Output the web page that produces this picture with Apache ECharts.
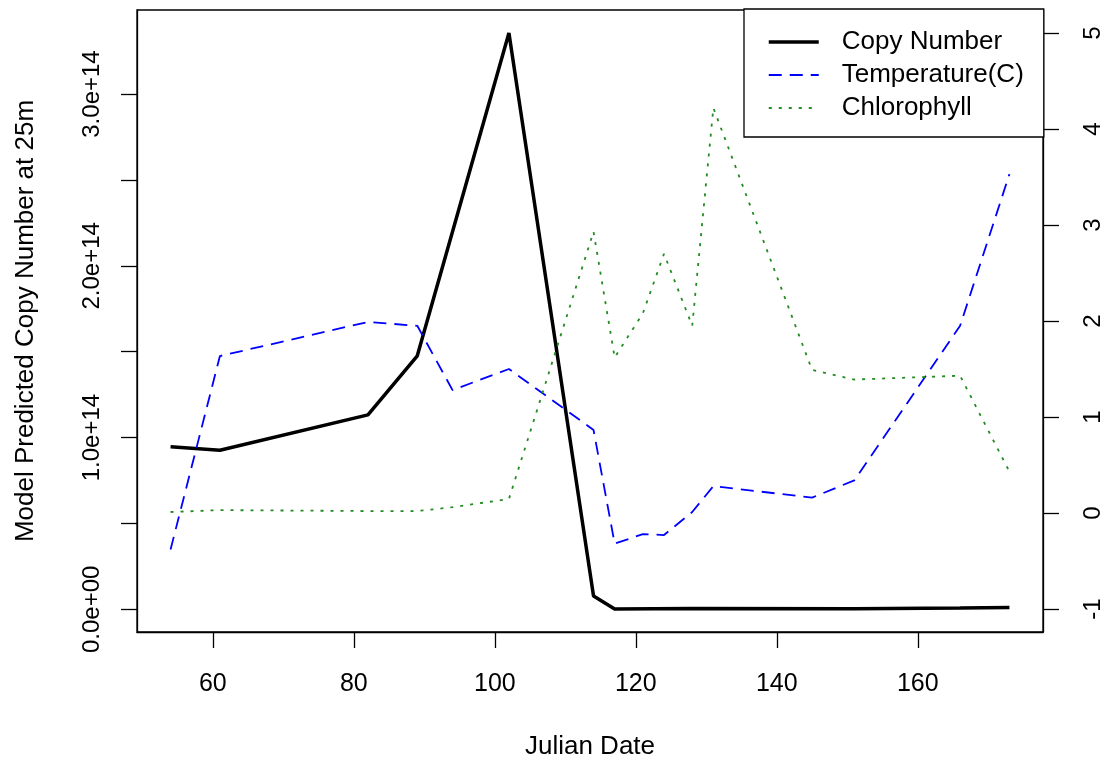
<!DOCTYPE html>
<html>
<head>
<meta charset="UTF-8">
<title>Copy Number</title>
<script src="https://cdn.jsdelivr.net/npm/echarts@6/dist/echarts.min.js"></script>
</head>
<body style="margin:0;background:#fff;">
	<div id="container" style="width:1109px;height:760px;"></div>
	<script type="text/javascript">

	// copy number (left axis)
	var copyDates = [54, 61, 82, 89, 102, 114, 117, 128, 151, 166, 173];
	var copyVals = [0.947e14, 0.926e14, 1.132e14, 1.476e14, 3.355e14, 0.078e14, 0.002e14, 0.004e14, 0.003e14, 0.008e14, 0.011e14];

	// temperature and chlorophyll (right axis)
	var envDates = [54, 61, 82, 89, 94, 102, 114, 117, 121, 124, 128, 131, 145, 151, 166, 173];
	var tempVals = [-0.38, 1.635, 1.99, 1.95, 1.28, 1.5, 0.865, -0.32, -0.22, -0.23, 0.01, 0.28, 0.16, 0.34, 1.95, 3.53];
	var chlVals = [0.01, 0.03, 0.02, 0.02, 0.06, 0.146, 2.93, 1.62, 2.08, 2.7, 1.95, 4.22, 1.49, 1.39, 1.43, 0.43];

	var xTicks = [60, 80, 100, 120, 140, 160];
	var leftTicks = [0, 0.5e14, 1e14, 1.5e14, 2e14, 2.5e14, 3e14];
	var leftLabels = [0, 1e14, 2e14, 3e14];
	var rightTicks = [-1, 0, 1, 2, 3, 4, 5];

	var font = 'Liberation Sans, Arial, Helvetica, sans-serif';

	function pair(xs, ys) {
		var out = [];
		for (var i = 0; i < xs.length; i++) out.push([xs[i], ys[i]]);
		return out;
	}
	// R style 4% padding
	function padRange(lo, hi) {
		var p = (hi - lo) * 0.04;
		return [lo - p, hi + p];
	}
	var allX = copyDates.concat(envDates);
	var xr = padRange(Math.min.apply(null, allX), Math.max.apply(null, allX));
	var yl = padRange(Math.min.apply(null, copyVals), Math.max.apply(null, copyVals));
	var yr = padRange(-1, 5);

	var dom = document.getElementById("container");
	var myChart = echarts.init(dom);
	var option = {
		animation: false,
		backgroundColor: '#fff',
		textStyle: { fontFamily: font },
		grid: {
			left: 137, right: 66, top: 10, bottom: 128,
			outerBoundsMode: 'none',
			containLabel: false,
			show: true, borderColor: '#000', borderWidth: 1.3
		},
		legend: {
			orient: 'vertical',
			left: 744, top: 9,
			padding: [20, 20, 16, 23],
			itemGap: 7,
			itemWidth: 50, itemHeight: 14,
			itemStyle: { opacity: 0 },
			borderColor: '#000', borderWidth: 1.3,
			backgroundColor: '#fff',
			textStyle: { fontSize: 26, color: '#000', fontFamily: font, lineHeight: 25, padding: [0, 0, 0, 18] },
			data: [
				{ name: 'Copy Number', lineStyle: { width: 3.5 } },
				{ name: 'Temperature(C)', lineStyle: { width: 1.8 } },
				{ name: 'Chlorophyll', lineStyle: { width: 1.8 } }
			]
		},
		xAxis: {
			type: 'value',
			min: xr[0], max: xr[1],
			name: 'Julian Date',
			nameLocation: 'middle',
			nameGap: 102,
			nameTextStyle: { fontSize: 26, color: '#000', fontFamily: font },
			axisLine: { show: true, onZero: false, lineStyle: { color: '#000', width: 1.3 } },
			axisTick: { show: true, length: 16, lineStyle: { color: '#000', width: 1.3 }, customValues: xTicks },
			axisLabel: { fontSize: 25, color: '#000', margin: 40, customValues: xTicks, fontFamily: font },
			splitLine: { show: false }
		},
		yAxis: [{
			type: 'value',
			min: yl[0], max: yl[1],
			position: 'left',
			name: 'Model Predicted Copy Number at 25m',
			nameLocation: 'middle',
			nameGap: 98,
			nameTextStyle: { fontSize: 26, color: '#000', fontFamily: font },
			axisLine: { show: true, onZero: false, lineStyle: { color: '#000', width: 1.3 } },
			axisTick: { show: true, length: 16, lineStyle: { color: '#000', width: 1.3 }, customValues: leftTicks },
			axisLabel: {
				fontSize: 24, color: '#000', rotate: 90, margin: 33, fontFamily: font,
				customValues: leftLabels,
				formatter: function (v) {
					return v === 0 ? '0.0e+00' : (v / 1e14).toFixed(1) + 'e+14';
				}
			},
			splitLine: { show: false }
		}, {
			type: 'value',
			min: yr[0], max: yr[1],
			position: 'right',
			axisLine: { show: true, onZero: false, lineStyle: { color: '#000', width: 1.3 } },
			axisTick: { show: true, length: 16, lineStyle: { color: '#000', width: 1.3 }, customValues: rightTicks },
			axisLabel: { fontSize: 24, color: '#000', rotate: 90, margin: 38, customValues: rightTicks, fontFamily: font },
			splitLine: { show: false }
		}],
		series: [{
			name: 'Copy Number',
			type: 'line',
			yAxisIndex: 0,
			symbol: 'none',
			data: pair(copyDates, copyVals),
			lineStyle: { color: '#000', width: 3.5 },
			itemStyle: { color: '#000' },
			z: 3
		}, {
			name: 'Temperature(C)',
			type: 'line',
			yAxisIndex: 1,
			symbol: 'none',
			data: pair(envDates, tempVals),
			lineStyle: { color: '#0000ff', width: 1.8, type: [13, 8] },
			itemStyle: { color: '#0000ff' }
		}, {
			name: 'Chlorophyll',
			type: 'line',
			yAxisIndex: 1,
			symbol: 'none',
			data: pair(envDates, chlVals),
			lineStyle: { color: '#228B22', width: 1.8, type: [3, 7] },
			itemStyle: { color: '#228B22' }
		}]
	};
	myChart.setOption(option, true);
	</script>
</body>
</html>
